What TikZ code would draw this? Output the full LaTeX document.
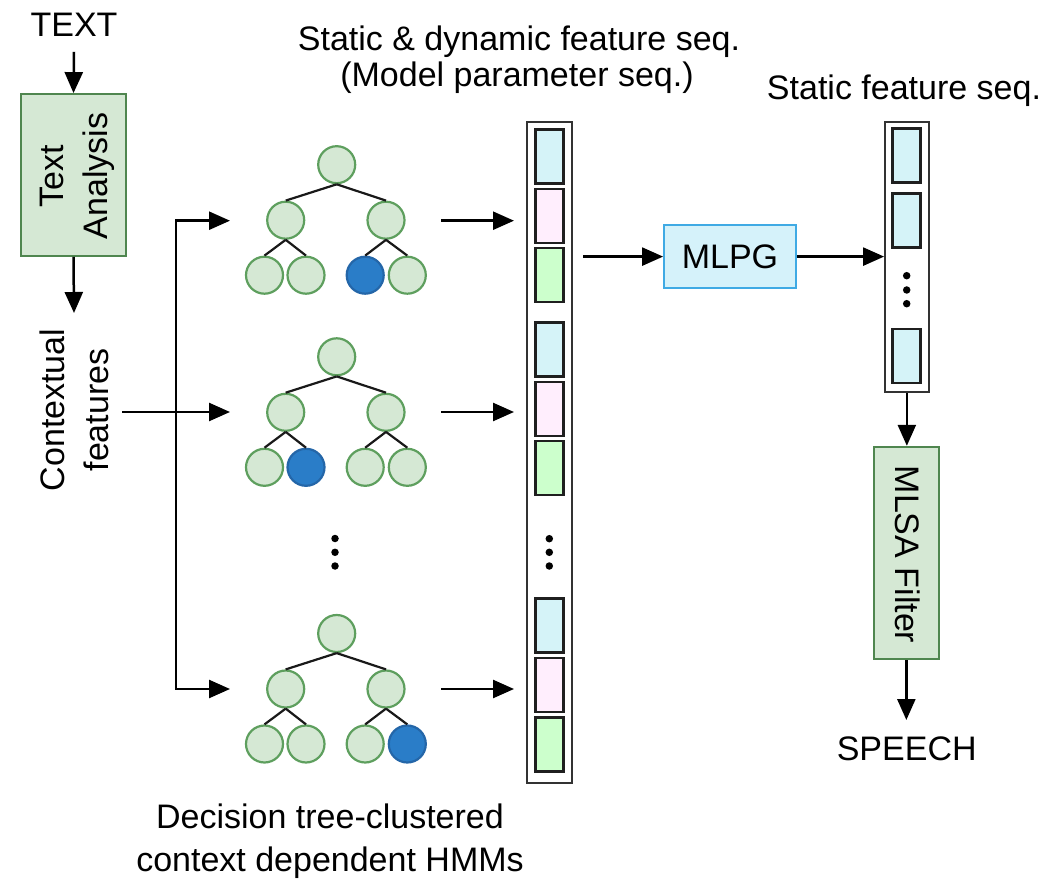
\documentclass[tikz,border=0pt]{standalone}
\usepackage{fontspec}
\setmainfont{Liberation Sans}
\usetikzlibrary{arrows.meta}
\definecolor{boxfill}{HTML}{D5E8D4}
\definecolor{boxdraw}{HTML}{4F864F}
\definecolor{leaffill}{HTML}{D5E8D4}
\definecolor{leafdraw}{HTML}{5E9F5E}
\definecolor{hitfill}{HTML}{2A7DC8}
\definecolor{hitdraw}{HTML}{2466A8}
\definecolor{cellcyan}{HTML}{D5F3F8}
\definecolor{cellpink}{HTML}{FFEEFD}
\definecolor{cellgreen}{HTML}{CCFFCC}
\definecolor{mlpgfill}{HTML}{D5F2FA}
\definecolor{mlpgdraw}{HTML}{3FAAE4}
\definecolor{outline}{HTML}{333333}
\newcommand\hmmtree[6]{%
  \node[#3] (#1l1) at (264.5,#2+110.5) {};
  \node[#4] (#1l2) at (306,#2+110.5) {};
  \node[#5] (#1l3) at (365.2,#2+110.5) {};
  \node[#6] (#1l4) at (407.3,#2+110.5) {};
  \node[hmm] (#1r) at (336.7,#2) {};
  \node[hmm] (#1a) at (285.7,#2+55.5) {};
  \node[hmm] (#1b) at (386,#2+55.5) {};
  \draw[edge] (#1r.south) -- (#1a.north);
  \draw[edge] (#1r.south) -- (#1b.north);
  \draw[edge] (#1a.south) -- (#1l1.north);
  \draw[edge] (#1a.south) -- (#1l2.north);
  \draw[edge] (#1b.south) -- (#1l3.north);
  \draw[edge] (#1b.south) -- (#1l4.north);
}
\begin{document}
\begin{tikzpicture}[x=1pt,y=-1pt,
  every node/.style={font=\fontsize{34pt}{44pt}\selectfont, text=black},
  arr/.style={line width=2.5pt, -{Triangle[length=21pt,width=18pt]}},
  dblarr/.style={line width=2.5pt, {Triangle[length=21pt,width=18pt]}-{Triangle[length=21pt,width=18pt]}},
  edge/.style={line width=2.2pt, black!90},
  hmm/.style={circle, draw=leafdraw, fill=leaffill, line width=2.2pt, minimum size=37pt, inner sep=0pt},
  hit/.style={hmm, draw=hitdraw, fill=hitfill},
  greenbox/.style={rectangle, draw=boxdraw, fill=boxfill, line width=1.8pt, inner sep=0pt},
  colbox/.style={rectangle, draw=outline, fill=white, line width=1.8pt, inner sep=0pt},
  cell/.style={rectangle, draw=black!88, line width=2.5pt, minimum width=27.6pt, minimum height=54pt, inner sep=0pt},
  dotnode/.style={circle, fill=black, minimum size=7.5pt, inner sep=0pt},
  lbl/.style={inner sep=0pt, anchor=base}
]
\useasboundingbox (0,0) rectangle (1055,882);

% --- left part
\node[lbl, inner sep=15pt] (txt) at (74,36.7) {TEXT};
\node[greenbox, minimum width=105pt, minimum height=162pt] (ta) at (73.5,175) {};
\node[rotate=90, align=center, inner sep=0pt] (tat) at (77,176) {Text\\Analysis};
\draw[arr] (txt.south) -- (ta.north);
\coordinate (ctxin) at (74,313);
\draw[arr] (ta.south) -- (ctxin);
\node[rotate=90, align=center, inner sep=0pt] (ctx) at (74.5,410) {Contextual\\features};

\coordinate (ctxout) at (122,412);
\coordinate (in1) at (230,220.7);
\coordinate (in2) at (230,412);
\coordinate (in3) at (230,689);
\coordinate (brt) at (176,220.7);
\coordinate (brb) at (176,689);
\draw[dblarr] (in1) -- (brt) -- (brb) -- (in3);
\draw[arr] (ctxout) -- (in2);

% --- trees
\hmmtree{ta}{164.7}{hmm}{hmm}{hit}{hmm}
\hmmtree{tb}{356.8}{hmm}{hit}{hmm}{hmm}
\hmmtree{tc}{633.5}{hmm}{hmm}{hmm}{hit}
\node[dotnode] (td1) at (335,538.5) {};
\node[dotnode] (td2) at (335,552.3) {};
\node[dotnode] (td3) at (335,566) {};

% --- tree to column arrows
\coordinate (o1) at (441,220.7);
\coordinate (o2) at (441,412);
\coordinate (o3) at (441,689);
\coordinate (e1) at (514,220.7);
\coordinate (e2) at (514,412);
\coordinate (e3) at (514,689);
\draw[arr] (o1) -- (e1);
\draw[arr] (o2) -- (e2);
\draw[arr] (o3) -- (e3);

% --- main column
\node[colbox, minimum width=44.4pt, minimum height=660.4pt] (col) at (549.5,452.5) {};
\node[cell, fill=cellcyan]  (c1) at (549.5,156.5) {};
\node[cell, fill=cellpink]  (c2) at (549.5,215.8) {};
\node[cell, fill=cellgreen] (c3) at (549.5,275.1) {};
\node[cell, fill=cellcyan]  (c4) at (549.5,349.5) {};
\node[cell, fill=cellpink]  (c5) at (549.5,408.8) {};
\node[cell, fill=cellgreen] (c6) at (549.5,468.1) {};
\node[cell, fill=cellcyan]  (c7) at (549.5,625.7) {};
\node[cell, fill=cellpink]  (c8) at (549.5,685) {};
\node[cell, fill=cellgreen] (c9) at (549.5,744.3) {};
\node[dotnode] (cd1) at (549.3,538.7) {};
\node[dotnode] (cd2) at (549.3,552.3) {};
\node[dotnode] (cd3) at (549.3,566) {};

\node[lbl] (sdf) at (519,51) {Static \& dynamic feature seq.};
\node[lbl] (mps) at (517,87) {(Model parameter seq.)};

% --- MLPG
\node[rectangle, draw=mlpgdraw, fill=mlpgfill, line width=1.8pt, minimum width=132pt, minimum height=63.3pt, inner sep=0pt] (mlpg) at (730,256.6) {MLPG};
\coordinate (co) at (583,256.6);
\draw[arr] (co) -- (mlpg.west);

% --- right column
\node[colbox, minimum width=43.7pt, minimum height=270.3pt] (rcol) at (906.85,257.15) {};
\node[cell, fill=cellcyan, minimum width=28pt] (r1) at (906.7,155.5) {};
\node[cell, fill=cellcyan, minimum width=28pt] (r2) at (906.7,220.7) {};
\node[cell, fill=cellcyan, minimum width=28pt] (r3) at (906.7,356) {};
\node[dotnode] (rd1) at (906.7,275.7) {};
\node[dotnode] (rd2) at (906.7,290) {};
\node[dotnode] (rd3) at (906.7,303.7) {};
\draw[arr] (mlpg.east) -- (mlpg.east -| rcol.west);
\node[lbl] (sfs) at (904,100) {Static feature seq.};

% --- MLSA
\node[greenbox, minimum width=64.7pt, minimum height=212.6pt] (mlsa) at (906.35,553) {};
\node[rotate=-90, inner sep=0pt] (mlsat) at (908,554.5) {MLSA Filter};
\draw[arr] (rcol.south) -- (rcol.south |- mlsa.north);
\coordinate (spin) at (906.35,720);
\draw[arr] (mlsa.south) -- (spin);
\node[lbl] (speech) at (906.7,760) {SPEECH};

% --- bottom caption
\node[lbl] (cap1) at (330,828) {Decision tree-clustered};
\node[lbl] (cap2) at (330,871) {context dependent HMMs};
\end{tikzpicture}
\end{document}
